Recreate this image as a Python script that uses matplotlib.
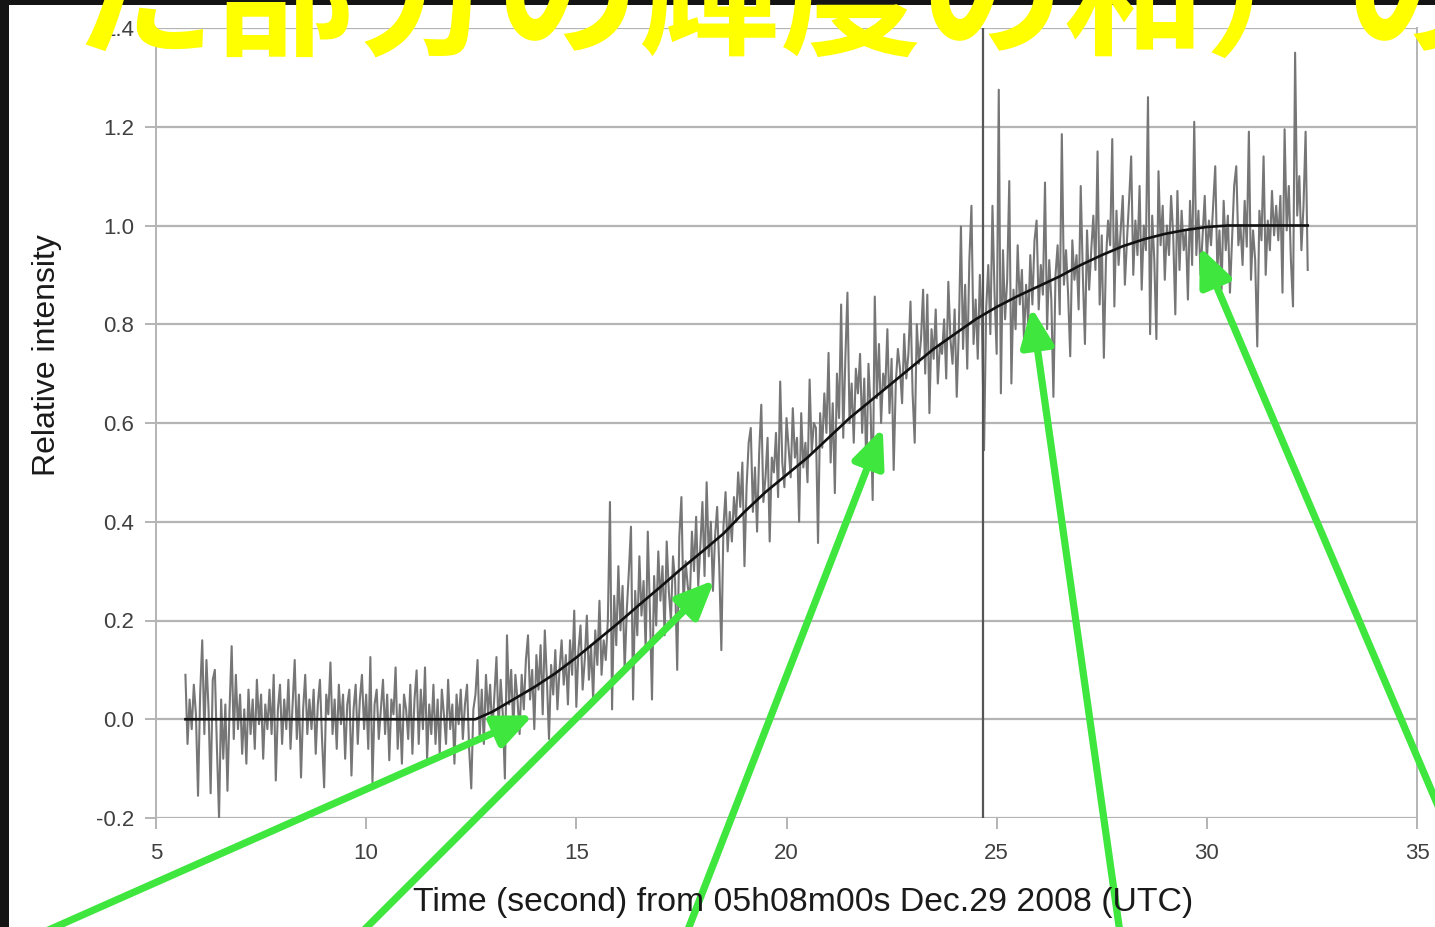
import numpy as np
import matplotlib
matplotlib.use("Agg")
import matplotlib.pyplot as plt
from matplotlib.patches import Rectangle

# Photometric record: relative intensity sampled every 0.05 s from t = 5.70 s
t_start = 5.70
t_step = 0.05
intensity = [
    0.09, -0.05, 0.04, -0.02, 0.07, 0.01, -0.155, 0.05, 0.16, -0.03, 0.12, 0.02, -0.15, 0.08, 0.10, -0.06, -0.20, 0.04, -0.08, 0.03,
    -0.145, 0.02, 0.148, -0.04, 0.09, -0.02, 0.05, -0.07, 0.02, -0.09, 0.06, -0.03, 0.04, -0.06, 0.08, -0.01, 0.05, -0.08, 0.03, -0.02,
    0.06, -0.03, 0.09, -0.124, 0.02, 0.07, -0.05, 0.04, -0.02, 0.08, -0.06, 0.03, 0.12, -0.04, 0.05, -0.118, 0.02, 0.09, -0.03, 0.04,
    -0.02, 0.06, -0.07, 0.03, 0.08, -0.04, -0.138, 0.05, 0.01, 0.115, -0.03, 0.04, -0.06, 0.07, -0.01, 0.05, -0.08, 0.03, 0.06, -0.114,
    0.02, 0.07, -0.05, 0.04, 0.09, -0.02, 0.05, -0.06, 0.126, -0.128, 0.03, 0.06, -0.04, 0.02, 0.08, -0.03, 0.05, -0.083, 0.04, 0.01,
    0.105, -0.06, 0.03, -0.09, 0.05, 0.02, -0.04, 0.07, -0.07, 0.04, 0.099, -0.05, 0.06, -0.02, 0.105, -0.08, 0.03, -0.03, 0.07, -0.05,
    0.04, -0.07, 0.06, 0.01, -0.05, 0.08, -0.02, 0.03, -0.09, 0.05, -0.01, 0.06, -0.04, 0.03, 0.07, -0.06, -0.14, 0.02, 0.05, 0.12,
    -0.04, 0.06, -0.05, 0.09, 0.01, 0.07, -0.03, 0.05, 0.126, -0.02, 0.08, 0.01, -0.12, 0.17, 0.03, 0.10, -0.02, 0.09, 0.04, -0.03,
    0.09, 0.02, 0.12, 0.17, 0.04, 0.10, -0.02, 0.13, 0.06, 0.15, 0.01, 0.18, 0.08, -0.04, 0.11, 0.05, 0.14, 0.02, 0.10, 0.16,
    0.07, 0.13, 0.03, 0.16, 0.09, 0.22, 0.025, 0.14, 0.19, 0.06, 0.12, 0.21, 0.08, 0.15, 0.04, 0.18, 0.11, 0.24, 0.09, 0.16,
    0.12, 0.20, 0.44, 0.02, 0.25, 0.15, 0.31, 0.18, 0.27, 0.10, 0.22, 0.30, 0.39, 0.04, 0.26, 0.17, 0.33, 0.21, 0.28, 0.14,
    0.38, 0.22, 0.04, 0.29, 0.19, 0.34, 0.24, 0.31, 0.17, 0.36, 0.26, 0.20, 0.33, 0.28, 0.10, 0.37, 0.45, 0.23, 0.32, 0.27,
    0.24, 0.38, 0.30, 0.41, 0.27, 0.35, 0.44, 0.29, 0.48, 0.33, 0.40, 0.26, 0.37, 0.43, 0.31, 0.14, 0.39, 0.46, 0.34, 0.42,
    0.36, 0.45, 0.40, 0.50, 0.43, 0.52, 0.31, 0.47, 0.56, 0.59, 0.42, 0.51, 0.38, 0.54, 0.637, 0.44, 0.49, 0.57, 0.36, 0.53,
    0.50, 0.58, 0.45, 0.684, 0.52, 0.47, 0.61, 0.55, 0.49, 0.63, 0.53, 0.57, 0.40, 0.62, 0.51, 0.56, 0.48, 0.688, 0.54, 0.60,
    0.59, 0.357, 0.62, 0.55, 0.66, 0.58, 0.742, 0.52, 0.64, 0.458, 0.70, 0.61, 0.84, 0.57, 0.73, 0.864, 0.60, 0.68, 0.56, 0.71,
    0.66, 0.74, 0.58, 0.69, 0.505, 0.72, 0.63, 0.444, 0.856, 0.65, 0.76, 0.60, 0.70, 0.67, 0.79, 0.62, 0.73, 0.505, 0.68, 0.75,
    0.71, 0.64, 0.78, 0.69, 0.74, 0.846, 0.66, 0.56, 0.80, 0.72, 0.77, 0.87, 0.70, 0.86, 0.62, 0.79, 0.73, 0.83, 0.68, 0.76,
    0.74, 0.81, 0.69, 0.886, 0.77, 0.72, 0.83, 0.653, 0.79, 0.998, 0.75, 0.88, 0.71, 0.93, 1.04, 0.76, 0.85, 0.73, 0.90, 0.80,
    0.545, 0.83, 0.92, 0.78, 1.04, 0.86, 0.74, 1.275, 0.66, 0.95, 0.81, 0.89, 1.09, 0.68, 0.87, 0.79, 0.96, 0.84, 0.91, 0.77,
    0.88, 0.80, 0.94, 0.84, 0.97, 1.01, 0.83, 0.92, 0.86, 1.087, 0.79, 0.93, 0.85, 0.653, 0.90, 0.96, 0.82, 1.185, 0.88, 0.95,
    0.86, 0.735, 0.97, 0.89, 0.94, 0.83, 1.08, 0.90, 0.76, 0.99, 0.87, 0.95, 1.02, 0.91, 1.15, 0.84, 0.98, 0.732, 0.93, 1.01,
    0.96, 1.175, 0.836, 1.03, 0.92, 0.99, 1.06, 0.88, 0.97, 1.05, 1.14, 0.90, 1.01, 0.94, 1.08, 0.87, 1.00, 0.95, 1.26, 0.78,
    1.02, 0.93, 0.77, 1.11, 0.96, 1.04, 0.89, 1.00, 0.94, 1.06, 0.98, 0.82, 1.07, 0.91, 1.03, 0.95, 0.99, 0.85, 1.05, 0.92,
    1.21, 0.94, 1.03, 0.90, 0.98, 1.06, 0.93, 1.01, 0.96, 1.04, 1.12, 0.91, 0.99, 0.87, 1.05, 0.95, 1.02, 0.864, 0.97, 1.08,
    1.12, 0.96, 1.00, 0.92, 1.05, 0.957, 1.19, 0.89, 0.99, 0.93, 0.755, 1.03, 0.97, 1.14, 0.90, 1.01, 0.95, 1.07, 0.98, 1.04,
    0.97, 1.06, 0.864, 1.195, 0.99, 1.08, 0.93, 0.836, 1.35, 1.02, 1.10, 0.95, 1.04, 1.19, 0.91,
]

# Model light curve (smooth ingress profile)
fit_time = [5.7, 12.6, 13.0, 13.5, 14.0, 14.5, 15.0, 15.5, 16.0, 16.5, 17.0, 17.5, 18.0, 18.5,
            19.0, 19.5, 20.0, 20.5, 21.0, 21.5, 22.0, 22.5, 23.0, 23.5, 24.0, 24.5, 25.0, 25.5,
            26.0, 26.5, 27.0, 27.5, 28.0, 28.5, 29.0, 29.5, 30.0, 30.5, 31.0, 32.4]
fit_value = [0.0, 0.0, 0.015, 0.04, 0.065, 0.093, 0.125, 0.16, 0.195, 0.232, 0.268, 0.305, 0.34, 0.376,
             0.42, 0.46, 0.495, 0.53, 0.57, 0.61, 0.645, 0.68, 0.715, 0.75, 0.78, 0.81, 0.835, 0.857,
             0.877, 0.897, 0.92, 0.94, 0.958, 0.972, 0.983, 0.991, 0.997, 1.0, 1.0, 1.0]

marker_time = 24.67

x_ticks = [5, 10, 15, 20, 25, 30, 35]
y_ticks = [-0.2, 0.0, 0.2, 0.4, 0.6, 0.8, 1.0, 1.2, 1.4]
y_tick_labels = ["-0.2", "0.0", "0.2", "0.4", "0.6", "0.8", "1.0", "1.2", "1.4"]

headline = "た部分の輝度の和）の"
x_title = "Time (second) from 05h08m00s Dec.29 2008 (UTC)"
y_title = "Relative intensity"

# Points on the curve that the callout arrows indicate (data coords)
arrow_tip_x = [13.97, 18.29, 22.29, 25.83, 29.83]
arrow_tip_y = [0.008, 0.282, 0.590, 0.834, 0.957]
# Arrow tails in image pixels (from the top-left corner)
arrow_tail_px = [(26, 940), (354, 940), (684, 940), (1121, 940), (1450, 834)]

W, H = 1435, 927
fig = plt.figure(figsize=(W / 100, H / 100), dpi=100)
fig.patch.set_facecolor("#141414")
fig.add_artist(Rectangle((9 / W, 0), 1, 1 - 5 / H, transform=fig.transFigure,
                         facecolor="white", edgecolor="none", zorder=0))

ax = fig.add_axes([156 / W, 1 - 818 / H, (1417 - 156) / W, (818 - 28) / H])
ax.set_facecolor("white")
ax.set_xlim(5, 35)
ax.set_ylim(-0.2, 1.4)

grid_col = "#b4b4b4"
for yv in y_ticks:
    ax.axhline(yv, color=grid_col, lw=1.6, zorder=1)
for side in ("left", "right"):
    ax.spines[side].set_color(grid_col)
    ax.spines[side].set_linewidth(1.4)
for side in ("top", "bottom"):
    ax.spines[side].set_visible(False)

ax.set_xticks(x_ticks)
ax.set_xticklabels([str(v) for v in x_ticks])
ax.set_yticks(y_ticks)
ax.set_yticklabels(y_tick_labels)
ax.tick_params(axis="both", colors=grid_col, length=8, width=1.4,
               labelcolor="#404040", labelsize=16)
ax.tick_params(axis="x", pad=10)
ax.tick_params(axis="y", pad=8)
for lab in ax.get_xticklabels() + ax.get_yticklabels():
    lab.set_family("Liberation Sans")

t = t_start + t_step * np.arange(len(intensity))
ax.plot(t, intensity, color="#767676", lw=1.5, zorder=3)
ax.axvline(marker_time, color="#555555", lw=1.6, zorder=4)
ax.plot(fit_time, fit_value, color="#111111", lw=1.9, zorder=5)

fig.text(803 / W, 1 - 902 / H, x_title, ha="center", va="center",
         fontsize=24.3, family="Liberation Sans", color="#1a1a1a")
fig.text(47 / W, 1 - 355 / H, y_title, ha="center", va="center", rotation=90,
         fontsize=23, family="Liberation Sans", color="#1a1a1a")

green = "#3ee63e"
for tx, ty, (px, py) in zip(arrow_tip_x, arrow_tip_y, arrow_tail_px):
    ax.annotate("", xy=(tx, ty), xycoords="data",
                xytext=(px, H - py), textcoords="figure pixels",
                arrowprops=dict(arrowstyle="-|>,head_length=1.15,head_width=0.5",
                                color=green, lw=5.2, shrinkA=0, shrinkB=0,
                                mutation_scale=20),
                annotation_clip=False, zorder=10)

fig.text(72 / W, 1 - 45 / H, headline, ha="left", va="baseline",
         fontsize=102, fontweight="bold", color="#ffff00",
         family=["Noto Sans CJK JP", "DejaVu Sans"], zorder=20)

fig.savefig("out.png", dpi=100, facecolor=fig.get_facecolor())
